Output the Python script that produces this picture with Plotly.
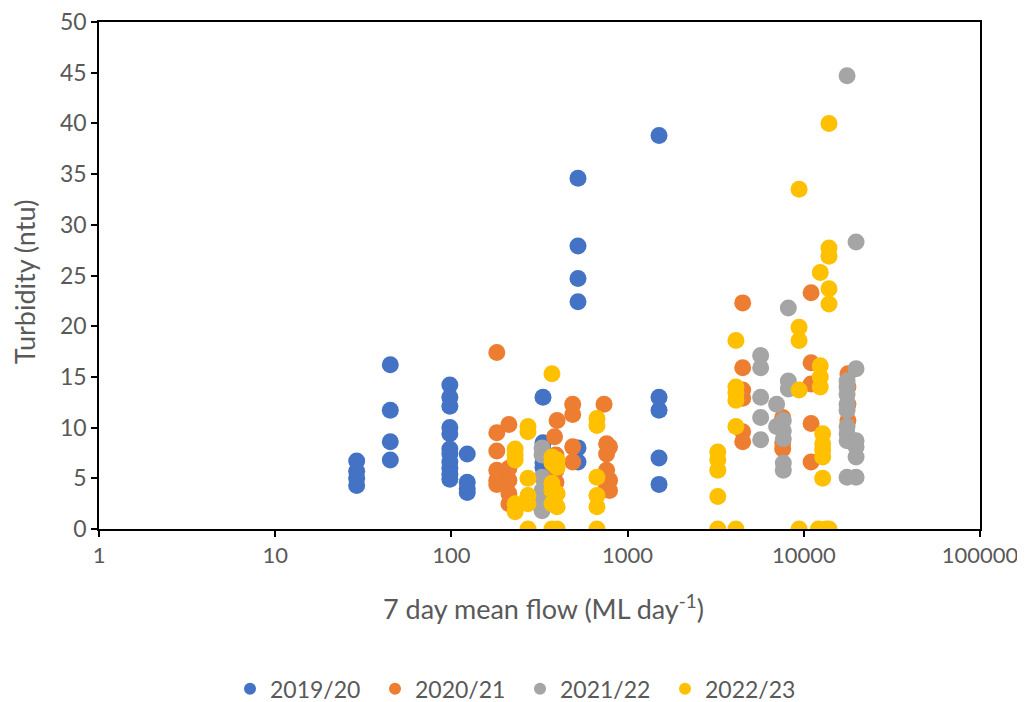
import plotly.graph_objects as go

series_names = ["2019/20", "2020/21", "2021/22", "2022/23"]
colors = ["#4472C4", "#ED7D31", "#A5A5A5", "#FFC000"]

flow_1920 = [29, 29, 29, 29,
             45, 45, 45, 45,
             98, 98, 98, 98, 98, 98, 98, 98, 98, 98, 98,
             123, 123, 123, 123,
             331, 331, 331, 331, 331,
             523, 523, 523, 523, 523, 523,
             1508, 1508, 1508, 1508, 1508]
turb_1920 = [6.7, 5.7, 5.0, 4.3,
             16.2, 11.7, 8.6, 6.8,
             14.2, 13.0, 12.1, 10.0, 9.4, 7.9, 7.4, 6.6, 6.0, 5.4, 4.9,
             7.4, 4.6, 4.0, 3.6,
             13.0, 8.5, 7.8, 6.5, 6.1,
             34.6, 27.9, 24.7, 22.4, 8.0, 6.6,
             38.8, 13.0, 11.7, 7.0, 4.4]

flow_2021 = [181, 181, 181, 181, 181, 181,
             212, 212, 212, 212, 212,
             385, 398, 392, 392, 392,
             488, 488, 488, 488,
             735, 760, 760, 760, 760, 790, 790, 790,
             4500, 4500, 4500, 4500, 4500, 4500,
             7590, 7590, 7590,
             11000, 11000, 11000, 11000, 11000,
             17800, 17800, 17800, 17800]
turb_2021 = [17.4, 9.5, 7.7, 5.8, 4.8, 4.4,
             10.3, 6.0, 4.8, 3.5, 2.5,
             9.1, 10.7, 7.3, 5.8, 4.6,
             12.3, 11.3, 8.1, 6.6,
             12.3, 8.4, 7.4, 5.8, 4.2, 8.1, 4.8, 3.8,
             22.3, 15.9, 13.7, 12.9, 9.6, 8.6,
             11.0, 8.5, 7.9,
             23.3, 16.4, 14.3, 10.4, 6.6,
             15.3, 12.3, 10.7, 14.0]

flow_2122 = [327, 327, 327, 327, 327, 327,
             5690, 5690, 5690, 5690, 5690,
             7010, 7010,
             7650, 7650, 7650, 7650, 7650,
             8170, 8170, 8170,
             17600, 17600, 17600, 17600, 17600, 17600, 17600, 17600, 17600, 17600,
             19800, 19800, 19800, 19800, 19800, 19800]
turb_2122 = [8.0, 7.3, 5.1, 3.8, 2.6, 1.8,
             17.1, 15.9, 13.0, 11.0, 8.8,
             12.3, 10.1,
             10.7, 9.7, 8.9, 6.5, 5.8,
             21.8, 14.6, 13.8,
             44.7, 14.6, 14.0, 13.3, 12.3, 11.7, 10.1, 9.4, 8.7, 5.1,
             28.3, 15.8, 8.7, 8.1, 7.1, 5.1]

flow_2223 = [230, 230, 230, 230, 230,
             272, 272, 272, 272, 272, 272,
             372, 372, 372, 372, 372, 372, 372,
             398, 398, 398, 398, 398,
             670, 670, 670, 670, 670, 670,
             3250, 3250, 3250, 3250, 3250,
             4120, 4120, 4120, 4120, 4120, 4120,
             9400, 9400, 9400, 9400, 9400,
             12400, 12400, 12400, 12400,
             12800, 12800, 12800, 12800, 12800, 12100,
             13900, 13900, 13900, 13900, 13900, 13900, 13400]
turb_2223 = [7.9, 7.3, 6.8, 2.5, 1.7,
             10.1, 9.6, 5.0, 3.3, 2.5, 0,
             15.3, 7.1, 6.5, 4.5, 3.8, 2.5, 0,
             6.8, 6.1, 3.5, 2.2, 0,
             10.9, 10.2, 5.1, 3.3, 2.2, 0,
             7.6, 6.8, 5.8, 3.2, 0,
             18.6, 14.0, 13.4, 12.7, 10.1, 0,
             33.5, 19.9, 18.6, 13.7, 0,
             25.3, 16.1, 15.0, 14.0,
             9.4, 8.4, 7.8, 7.1, 5.0, 0,
             40.0, 27.7, 26.9, 23.7, 22.2, 0, 0]

x_ticks = [1, 10, 100, 1000, 10000, 100000]
x_tick_labels = ["1", "10", "100", "1000", "10000", "100000"]
y_ticks = [0, 5, 10, 15, 20, 25, 30, 35, 40, 45, 50]

x_title = "7 day mean flow (ML day<sup>-1</sup>)"
y_title = "Turbidity (ntu)"

xs = [flow_1920, flow_2021, flow_2122, flow_2223]
ys = [turb_1920, turb_2021, turb_2122, turb_2223]

FONT = "Lato"
GREY = "#595959"
TICK_SIZE = 23
TITLE_SIZE = 27

fig = go.Figure()
for name, c, x, y in zip(series_names, colors, xs, ys):
    fig.add_trace(go.Scatter(
        x=x, y=y, mode="markers", name=name,
        marker=dict(color=c, size=17, line=dict(width=0)),
    ))

axis_common = dict(
    ticks="outside", ticklen=6, tickcolor="black", tickwidth=1.5,
    showline=True, linecolor="black", linewidth=1.5, mirror=True,
    showgrid=False, zeroline=False, automargin=False,
    ticklabeloverflow="allow",
)

# the page body adds an 8px offset, so the figure is sized to the visible area
fig.update_layout(
    width=1017, height=694,
    margin=dict(l=91, r=45, t=14, b=173, autoexpand=False),
    paper_bgcolor="white", plot_bgcolor="white",
    font=dict(family=FONT, color=GREY, size=TICK_SIZE),
    showlegend=True,
    legend=dict(orientation="h", x=0.1487, xanchor="left", y=-0.315, yanchor="middle",
                font=dict(family=FONT, size=TICK_SIZE, color=GREY),
                itemsizing="constant", itemwidth=30,
                entrywidth=100, entrywidthmode="pixels", traceorder="normal"),
    xaxis=dict(type="log", range=[0, 5], tickvals=x_ticks, ticktext=x_tick_labels,
               tickfont=dict(family=FONT, size=22, color=GREY), **axis_common),
    yaxis=dict(range=[0, 50], tickvals=y_ticks,
               tickfont=dict(family=FONT, size=TICK_SIZE, color=GREY), **axis_common),
    annotations=[
        dict(text=x_title, xref="paper", yref="paper", x=0.505, y=-0.1535,
             xanchor="center", yanchor="middle", showarrow=False,
             font=dict(family=FONT, size=TITLE_SIZE, color=GREY)),
        dict(text=y_title, xref="paper", yref="paper", x=-0.085, y=0.487,
             xanchor="center", yanchor="middle", showarrow=False, textangle=-90,
             font=dict(family=FONT, size=TITLE_SIZE, color=GREY)),
    ],
)

fig.write_html("out.html")
